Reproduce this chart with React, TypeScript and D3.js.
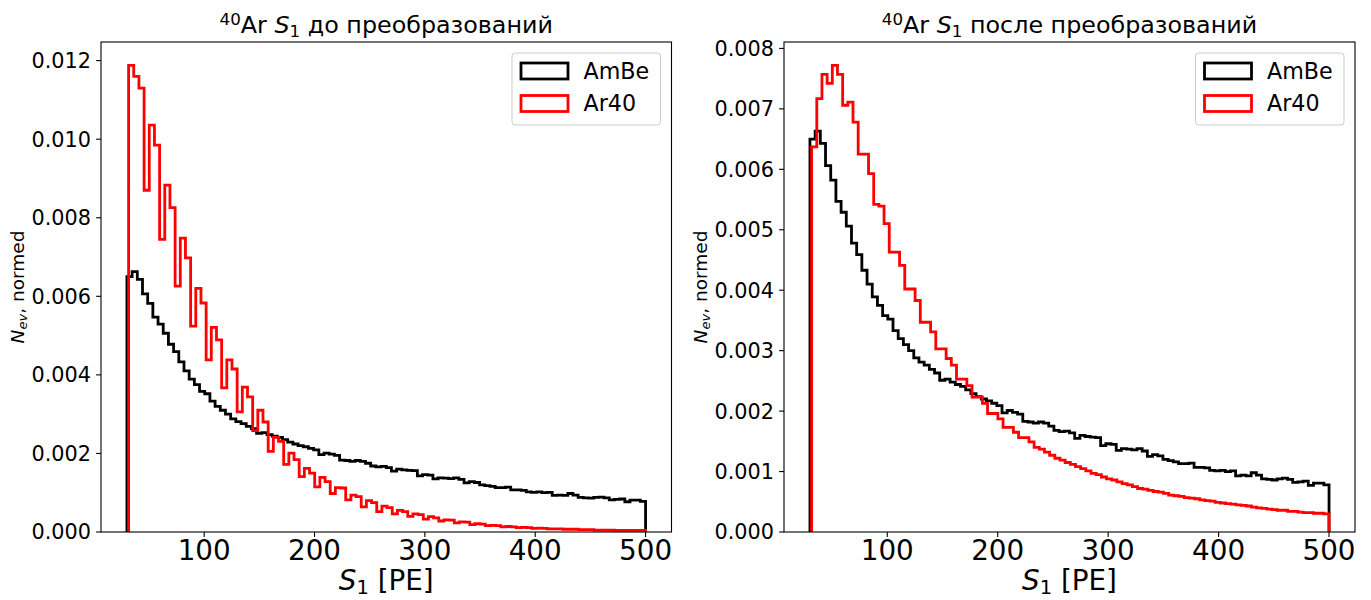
import React from "react";
import * as d3 from "d3";

// ---------- data ----------
const binCount = 100;
const ambeRange = [30, 500];
const ar40Range = [31.5, 500];

// AmBe normalized histogram (same source in both panels)
const ambeValues = [
  0.00650, 0.00663, 0.00643, 0.00606, 0.00582, 0.00547, 0.00529, 0.00506, 0.00478, 0.00459,
  0.00433, 0.00410, 0.00389, 0.00375, 0.00358, 0.00352, 0.00333, 0.00320, 0.00310, 0.00300,
  0.00288, 0.00281, 0.00276, 0.00269, 0.00263, 0.00251, 0.00253, 0.00248, 0.00244, 0.00241,
  0.00235, 0.00229, 0.00224, 0.00220, 0.00217, 0.00213, 0.00209, 0.00197, 0.00201, 0.00198,
  0.00195, 0.00183, 0.00182, 0.00180, 0.00182, 0.00180, 0.00175, 0.00168, 0.00166, 0.00167,
  0.00164, 0.00155, 0.00160, 0.00158, 0.00157, 0.00156, 0.00143, 0.00146, 0.00145, 0.00135,
  0.00138, 0.00137, 0.00136, 0.00138, 0.00134, 0.00125, 0.00128, 0.00126, 0.00120, 0.00118,
  0.00116, 0.00113, 0.00113, 0.00114, 0.00107, 0.00107, 0.00106, 0.00102, 0.00101, 0.00102,
  0.00100, 0.00101, 0.00093, 0.00094, 0.00093, 0.00098, 0.00094, 0.00088, 0.00087, 0.00086,
  0.00088, 0.00089, 0.00087, 0.00082, 0.00083, 0.00084, 0.00077, 0.00081, 0.00081, 0.00078,
];

// Ar40 before transformations
const ar40BeforeValues = [
  0.01188, 0.01160, 0.01130, 0.00870, 0.01036, 0.00985, 0.00745, 0.00883, 0.00826, 0.00626,
  0.00748, 0.00698, 0.00524, 0.00620, 0.00583, 0.00438, 0.00521, 0.00489, 0.00367, 0.00438,
  0.00415, 0.00306, 0.00369, 0.00344, 0.00258, 0.00310, 0.00280, 0.00205, 0.00241, 0.00231,
  0.00172, 0.00201, 0.00184, 0.00141, 0.00162, 0.00150, 0.00115, 0.00139, 0.00128, 0.00098,
  0.00113, 0.00112, 0.00082, 0.00094, 0.00090, 0.00064, 0.00080, 0.00075, 0.00052, 0.00066,
  0.00062, 0.00046, 0.00055, 0.00052, 0.00040, 0.00046, 0.00044, 0.00033, 0.00039, 0.00036,
  0.00028, 0.00031, 0.00030, 0.00023, 0.00026, 0.00025, 0.00019, 0.00021, 0.00020, 0.00016,
  0.00017, 0.00016, 0.00013, 0.00014, 0.00013, 0.00011, 0.00012, 0.00011, 0.00009, 0.00010,
  0.00009, 0.00008, 0.00008, 0.00008, 0.00007, 0.00007, 0.00007, 0.00006, 0.00006, 0.00006,
  0.00005, 0.00005, 0.00005, 0.00005, 0.00004, 0.00004, 0.00004, 0.00004, 0.00004, 0.00004,
];

// Ar40 after transformations
const ar40AfterValues = [
  0.00637, 0.00717, 0.00757, 0.00742, 0.00772, 0.00757, 0.00706, 0.00711, 0.00678, 0.00625,
  0.00625, 0.00593, 0.00542, 0.00539, 0.00510, 0.00463, 0.00463, 0.00441, 0.00402, 0.00402,
  0.00383, 0.00347, 0.00347, 0.00331, 0.00303, 0.00303, 0.00287, 0.00276, 0.00253, 0.00253,
  0.00242, 0.00223, 0.00223, 0.00213, 0.00196, 0.00196, 0.00187, 0.00173, 0.00173, 0.00165,
  0.00156, 0.00156, 0.00149, 0.00140, 0.00137, 0.00132, 0.00127, 0.00122, 0.00119, 0.00115,
  0.00112, 0.00108, 0.00105, 0.00101, 0.00097, 0.00095, 0.00091, 0.00088, 0.00086, 0.00083,
  0.00080, 0.00078, 0.00075, 0.00072, 0.00071, 0.00069, 0.00067, 0.00066, 0.00064, 0.00061,
  0.00060, 0.00059, 0.00057, 0.00056, 0.00055, 0.00053, 0.00052, 0.00051, 0.00049, 0.00048,
  0.00047, 0.00046, 0.00045, 0.00044, 0.00043, 0.00041, 0.00040, 0.00039, 0.00038, 0.00037,
  0.00036, 0.00036, 0.00034, 0.00034, 0.00033, 0.00032, 0.00032, 0.00031, 0.00031, 0.00030,
];

const xTickValues = [100, 200, 300, 400, 500];
const yTicksBefore = [0, 0.002, 0.004, 0.006, 0.008, 0.010, 0.012];
const yTicksAfter = [0, 0.001, 0.002, 0.003, 0.004, 0.005, 0.006, 0.007, 0.008];
const legendLabels = ["AmBe", "Ar40"];
const seriesColors = ["#000000", "#ff0000"];
const titlePost = [" до преобразований", " после преобразований"];

// ---------- helpers ----------
const FONT = "'DejaVu Sans', sans-serif";
const TOP = 42;
const BOTTOM = 532;

function edges(range: number[], n: number) {
  const w = (range[1] - range[0]) / n;
  return d3.range(n + 1).map((i) => range[0] + i * w);
}

function stepPoints(range: number[], values: number[]) {
  const e = edges(range, values.length);
  const pts: [number, number][] = [[e[0], 0]];
  values.forEach((v, i) => {
    pts.push([e[i], v]);
    pts.push([e[i + 1], v]);
  });
  pts.push([e[values.length], 0]);
  return pts;
}

type PanelProps = {
  x0: number;
  x1: number;
  ar40: number[];
  yTicks: number[];
  post: string;
};

function Panel({ x0, x1, ar40, yTicks, post }: PanelProps) {
  const dMin = Math.min(ambeRange[0], ar40Range[0]);
  const dMax = Math.max(ambeRange[1], ar40Range[1]);
  const pad = (dMax - dMin) * 0.05;
  const x = d3.scaleLinear().domain([dMin - pad, dMax + pad]).range([x0, x1]);
  const yMax = (d3.max([...ambeValues, ...ar40]) as number) * 1.05;
  const y = d3.scaleLinear().domain([0, yMax]).range([BOTTOM, TOP]);
  const line = d3
    .line<[number, number]>()
    .x((d) => x(d[0]))
    .y((d) => y(d[1]));
  const fmt = d3.format(".3f");
  const cx = (x0 + x1) / 2;
  const cy = (TOP + BOTTOM) / 2;
  const series = [
    stepPoints(ambeRange, ambeValues),
    stepPoints(ar40Range, ar40),
  ];

  const legRight = x1 - 11;
  const legW = 148.5;
  const legLeft = legRight - legW;
  const legTop = TOP + 11;

  return (
    <g fontFamily={FONT}>
      {/* histograms */}
      <g>
        {series.map((pts, i) => (
          <path
            key={i}
            d={line(pts) || ""}
            fill="none"
            stroke={seriesColors[i]}
            strokeWidth={2.8}
            strokeLinejoin="miter"
          />
        ))}
      </g>
      {/* frame */}
      <rect
        x={x0}
        y={TOP}
        width={x1 - x0}
        height={BOTTOM - TOP}
        fill="none"
        stroke="#000"
        strokeWidth={1.1}
      />
      {/* y ticks */}
      {yTicks.map((t) => (
        <g key={"y" + t}>
          <line x1={x0 - 4.9} x2={x0} y1={y(t)} y2={y(t)} stroke="#000" strokeWidth={1.1} />
          <text
            x={x0 - 10}
            y={y(t)}
            dy="0.36em"
            textAnchor="end"
            fontSize={20.8}
            fill="#000"
          >
            {fmt(t)}
          </text>
        </g>
      ))}
      {/* x ticks */}
      {xTickValues.map((t) => (
        <g key={"x" + t}>
          <line x1={x(t)} x2={x(t)} y1={BOTTOM} y2={BOTTOM + 4.9} stroke="#000" strokeWidth={1.1} />
          <text x={x(t)} y={BOTTOM + 28} textAnchor="middle" fontSize={27.8} fill="#000">
            {t}
          </text>
        </g>
      ))}
      {/* x label */}
      <text x={cx} y={590} textAnchor="middle" fontSize={27.8} fill="#000" style={{ whiteSpace: "pre" }}>
        <tspan fontStyle="italic">S</tspan>
        <tspan fontSize={19.5} dy={4}>1</tspan>
        <tspan dy={-4}>{" [PE]"}</tspan>
      </text>
      {/* y label */}
      <text
        transform={`translate(${x0 - 77.5},${cy}) rotate(-90)`}
        textAnchor="middle"
        fontSize={18.5}
        fill="#000"
        style={{ whiteSpace: "pre" }}
      >
        <tspan fontStyle="italic">N</tspan>
        <tspan fontStyle="italic" fontSize={13} dy={3.5}>ev</tspan>
        <tspan dy={-3.5}>{", normed"}</tspan>
      </text>
      {/* title */}
      <text x={cx} y={33} textAnchor="middle" fontSize={23.8} fill="#000" style={{ whiteSpace: "pre" }}>
        <tspan fontSize={16.7} dy={-8.5}>40</tspan>
        <tspan dy={8.5}>{"Ar "}</tspan>
        <tspan fontStyle="italic">S</tspan>
        <tspan fontSize={16.7} dy={4}>1</tspan>
        <tspan dy={-4}>{post}</tspan>
      </text>
      {/* legend */}
      <rect
        x={legLeft}
        y={legTop}
        width={legW}
        height={72}
        rx={3}
        fill="#fff"
        fillOpacity={0.8}
        stroke="#cccccc"
        strokeWidth={1}
      />
      {legendLabels.map((lab, i) => (
        <g key={lab}>
          <rect
            x={legLeft + 9}
            y={legTop + 10 + i * 32.5}
            width={47}
            height={16}
            fill="none"
            stroke={seriesColors[i]}
            strokeWidth={2.8}
          />
          <text x={legLeft + 71.5} y={legTop + 18 + i * 32.5} dy="0.36em" fontSize={22.2} fill="#000">
            {lab}
          </text>
        </g>
      ))}
    </g>
  );
}

export default function App() {
  return (
    <svg
      width={1371}
      height={600}
      style={{ position: "absolute", left: 0, top: 0, background: "#fff" }}
    >
      <rect x={0} y={0} width={1371} height={600} fill="#fff" />
      <Panel x0={101} x1={671.5} ar40={ar40BeforeValues} yTicks={yTicksBefore} post={titlePost[0]} />
      <Panel x0={784} x1={1355} ar40={ar40AfterValues} yTicks={yTicksAfter} post={titlePost[1]} />
    </svg>
  );
}
